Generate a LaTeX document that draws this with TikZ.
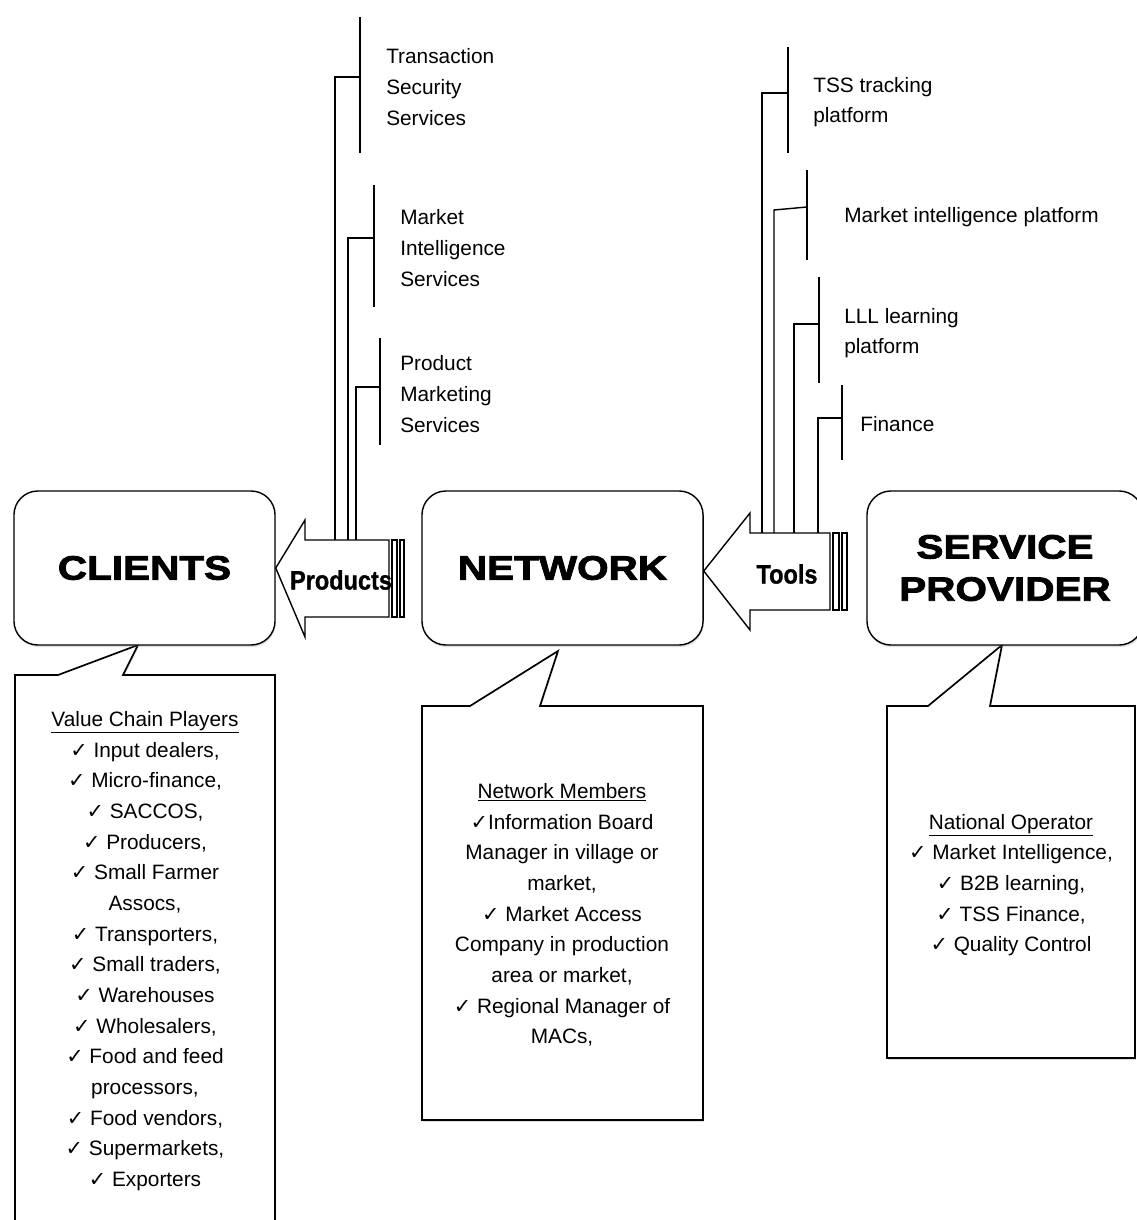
\documentclass[tikz,border=0pt]{standalone}
\usepackage{fontspec}
\setmainfont{Liberation Sans}
\newfontfamily\headfont{Liberation Sans}[FakeStretch=1.2,FakeBold=2.5]
\newfontfamily\arrowfont{Liberation Sans}[FakeStretch=0.88,FakeBold=1]
\newfontfamily\symfont{DejaVu Sans}
\newcommand{\checkmk}{{\symfont ✓}}
\usepackage{tikz}
\usetikzlibrary{shadows}
\tikzstyle{mainbox} = [rectangle, rounded corners=0.6cm, minimum height=3.85cm, align=center, draw=black, line width=1pt, fill=white, drop shadow={shadow xshift=0.5pt, shadow yshift=-1.5pt, opacity=0.25}, font=\headfont\bfseries\fontsize{24pt}{30pt}\selectfont]
\tikzstyle{callout} = [draw=black, line width=1.2pt, fill=white, drop shadow={shadow xshift=0.5pt, shadow yshift=-1.5pt, opacity=0.25}]
\tikzstyle{bigarrow} = [draw=black, line width=1pt, fill=white]
\tikzstyle{branch} = [line width=1pt]
\tikzstyle{branchtext} = [anchor=west, align=left, inner sep=0pt, font=\fontsize{14.8pt}{21.8pt}\selectfont]
\tikzstyle{listtext} = [align=center, inner sep=0pt, font=\fontsize{14.8pt}{21.8pt}\selectfont]
\tikzstyle{arrowtext} = [inner sep=0pt, font=\arrowfont\bfseries\fontsize{19pt}{22pt}\selectfont]

\begin{document}
\begin{tikzpicture}[x=0.025cm, y=-0.025cm]
\useasboundingbox (0,0) rectangle (1136,1220);

% callouts
\draw [callout] (15,1240) -- (15,675) -- (58,675) -- (138,645) -- (123,675) -- (275,675) -- (275,1240);
\draw [callout] (422,1120) -- (422,706) -- (470,706) -- (558,651) -- (540,706) -- (703,706) -- (703,1120) -- cycle;
\draw [callout] (887,1058) -- (887,706) -- (928,706) -- (1002,645) -- (990,706) -- (1135,706) -- (1135,1058) -- cycle;

% main boxes
\node (clients) [mainbox, minimum width=6.525cm] at (144.5,568) {CLIENTS};
\node (network) [mainbox, minimum width=7.025cm] at (562.5,568) {NETWORK};
\node (provider) [mainbox, minimum width=6.9cm] at (1005,568) {SERVICE\\PROVIDER};

% arrows
\draw [bigarrow] (clients.east |- 0,568) -- (305,520) -- (305,540) -- (389,540) -- (389,617) -- (305,617) -- (305,637) -- cycle;
\draw [bigarrow] (392,540) rectangle (397,617);
\draw [bigarrow] (400,540) rectangle (404,617);
\node (products) [arrowtext] at (341,580) {Products};

\draw [bigarrow] (network.east |- 0,571) -- (750,513) -- (750,533) -- (830,533) -- (830,610) -- (750,610) -- (750,630) -- cycle;
\draw [bigarrow] (833,533) rectangle (839,610);
\draw [bigarrow] (842,533) rectangle (847,610);
\node (tools) [arrowtext] at (787,574) {Tools};

% products tree
\node (tss) [branchtext] at (386,87) {Transaction\\Security\\Services};
\node (mis) [branchtext] at (400,248) {Market\\Intelligence\\Services};
\node (pms) [branchtext] at (400,394) {Product\\Marketing\\Services};
\draw [branch] (360,17) -- (360,153);
\draw [branch] (374,185) -- (374,307);
\draw [branch] (380,338) -- (380,445);
\draw [branch] (360,77) -| (335,540);
\draw [branch] (374,238) -| (348,540);
\draw [branch] (380,387) -| (356,540);

% tools tree
\node (tsstrack) [branchtext] at (813,102) {TSS tracking\\platform};
\node (mip) [branchtext] at (844,217) {Market intelligence platform};
\node (lll) [branchtext] at (844,333) {LLL learning\\platform};
\node (fin) [branchtext] at (860,424) {Finance};
\draw [branch] (788,47) -- (788,153);
\draw [branch] (807,170) -- (807,260);
\draw [branch] (819,277) -- (819,383);
\draw [branch] (842,385) -- (842,460);
\draw [branch] (788,93) -| (762,533);
\draw [branch] (807,207) -- (774,210) -- (774,533);
\draw [branch] (819,324) -| (794,533);
\draw [branch] (842,418) -| (818,533);

% lists
\node (players) [listtext] at (145,951) {\underline{Value Chain Players}\\
\checkmk{} Input dealers,\\
\checkmk{} Micro-finance,\\
\checkmk{} SACCOS,\\
\checkmk{} Producers,\\
\checkmk{} Small Farmer\\
Assocs,\\
\checkmk{} Transporters,\\
\checkmk{} Small traders,\\
\checkmk{} Warehouses\\
\checkmk{} Wholesalers,\\
\checkmk{} Food and feed\\
processors,\\
\checkmk{} Food vendors,\\
\checkmk{} Supermarkets,\\
\checkmk{} Exporters};

\node (members) [listtext] at (562,915) {\underline{Network Members}\\
\checkmk{}Information Board\\
Manager in village or\\
market,\\
\checkmk{} Market Access\\
Company in production\\
area or market,\\
\checkmk{} Regional Manager of\\
MACs,};

\node (operator) [listtext] at (1011,885) {\underline{National Operator}\\
\checkmk{} Market Intelligence,\\
\checkmk{} B2B learning,\\
\checkmk{} TSS Finance,\\
\checkmk{} Quality Control};

\end{tikzpicture}
\end{document}
